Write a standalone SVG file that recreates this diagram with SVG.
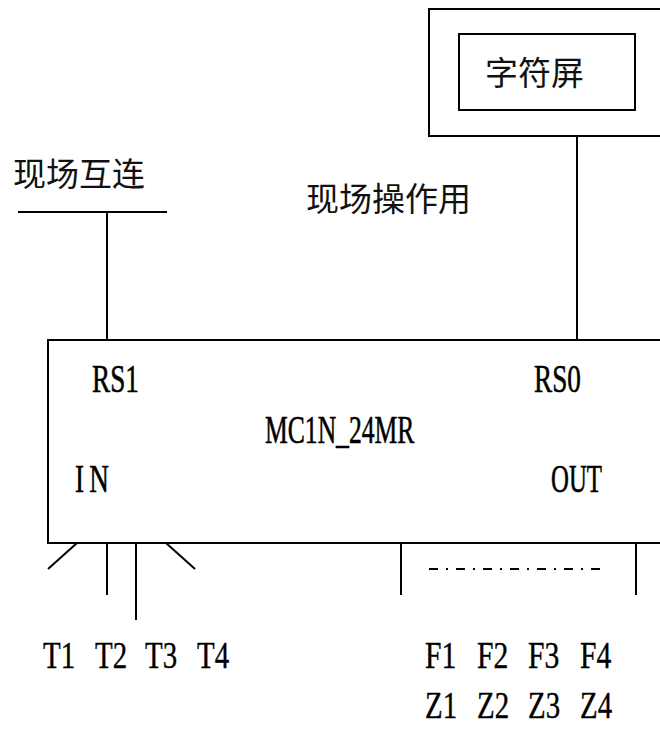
<svg xmlns="http://www.w3.org/2000/svg" width="660" height="730" viewBox="0 0 660 730">
<style>
.ln{fill:none;stroke:#000;stroke-width:2}
.cjk{font-family:"Noto Sans CJK SC","Noto Sans CJK JP",sans-serif;font-size:33px;fill:#111}
.lat{font-family:"Liberation Serif","Times New Roman",serif;font-size:40px;fill:#000;stroke:#000;stroke-width:0.6}
.pin{font-family:"Liberation Serif","Times New Roman",serif;font-size:38px;fill:#000;stroke:#000;stroke-width:0.4}
</style>
<rect width="660" height="730" fill="#fff"/>
<g id="display">
  <path class="ln" d="M662 9 H429 V136 H662"/>
  <rect class="ln" x="459" y="34" width="176" height="76"/>
  <text class="cjk" x="485" y="85">字符屏</text>
</g>
<g id="field-link">
  <text class="cjk" x="13" y="186">现场互连</text>
  <path class="ln" d="M18 212 H167"/>
</g>
<g id="field-op">
  <text class="cjk" x="306" y="211">现场操作用</text>
</g>
<g id="controller">
  <path class="ln" d="M662 340 H48 V543 H662"/>
  <text class="lat" transform="translate(92,392) scale(0.68,1)">RS1</text>
  <text class="lat" transform="translate(534,392) scale(0.68,1)">RS0</text>
  <text class="lat" transform="translate(265,443) scale(0.64,1)">MC1N_24MR</text>
  <text class="lat" transform="translate(75,492) scale(0.68,1)"><tspan x="0">I</tspan><tspan x="21">N</tspan></text>
  <text class="lat" transform="translate(551,492) scale(0.62,1)">OUT</text>
</g>
<g id="inputs">
  <text class="pin" transform="translate(43,668) scale(0.76,1)">T1</text>
  <text class="pin" transform="translate(95,668) scale(0.76,1)">T2</text>
  <text class="pin" transform="translate(145,668) scale(0.76,1)">T3</text>
  <text class="pin" transform="translate(197,668) scale(0.76,1)">T4</text>
</g>
<g id="outputs">
  <text class="pin" transform="translate(425,668) scale(0.78,1)">F1</text>
  <text class="pin" transform="translate(477,668) scale(0.78,1)">F2</text>
  <text class="pin" transform="translate(528,668) scale(0.78,1)">F3</text>
  <text class="pin" transform="translate(580,668) scale(0.78,1)">F4</text>
  <text class="pin" transform="translate(425,718) scale(0.76,1)">Z1</text>
  <text class="pin" transform="translate(477,718) scale(0.76,1)">Z2</text>
  <text class="pin" transform="translate(528,718) scale(0.76,1)">Z3</text>
  <text class="pin" transform="translate(580,718) scale(0.76,1)">Z4</text>
</g>
<g id="connectors">
  <path class="ln" d="M577 136 V340"/>
  <path class="ln" d="M107 212 V340"/>
  <path class="ln" d="M77 543 L48 569"/>
  <path class="ln" d="M107 543 V595"/>
  <path class="ln" d="M136 543 V620"/>
  <path class="ln" d="M166 543 L195 569"/>
  <path class="ln" d="M401 543 V595"/>
  <path class="ln" d="M636 543 V595"/>
  <path class="ln" d="M429 569 H600" stroke-dasharray="9 8 2 8"/>
</g>
</svg>
